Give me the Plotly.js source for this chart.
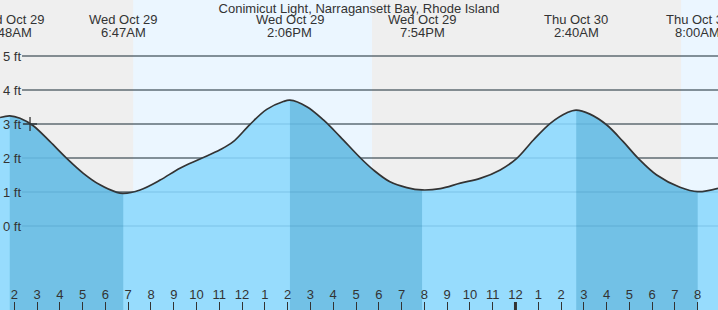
<!DOCTYPE html>
<html><head><meta charset="utf-8">
<script src="https://cdn.plot.ly/plotly-3.0.1.min.js"></script>
<style>html,body{margin:0;padding:0;background:#fff;}#chart{width:718px;height:310px;}</style>
</head><body><div id="chart"></div>
<script>
const chartTitle = "Conimicut Light, Narragansett Bay, Rhode Island";
// hours after midnight starting Wed Oct 29
const tideHours = [1.372, 1.80, 2.25, 2.83, 3.57, 4.30, 5.03, 5.76, 6.50, 6.783, 7.52, 8.40, 9.27, 10.15, 11.03, 11.61, 12.35, 13.08, 13.81, 14.10, 14.84, 15.57, 16.30, 17.18, 17.76, 18.49, 19.23, 19.90, 20.70, 21.58, 22.45, 23.33, 24.06, 24.79, 25.53, 26.26, 26.667, 27.27, 28.01, 28.73, 29.39, 30.20, 31.22, 32.00, 32.891];
const tideFeet  = [3.19, 3.24, 3.17, 2.95, 2.48, 1.99, 1.55, 1.21, 0.99, 0.96, 1.06, 1.35, 1.70, 1.97, 2.24, 2.48, 2.99, 3.43, 3.66, 3.70, 3.51, 3.12, 2.63, 2.01, 1.65, 1.30, 1.13, 1.06, 1.10, 1.26, 1.40, 1.65, 1.99, 2.53, 3.02, 3.33, 3.41, 3.29, 2.97, 2.48, 1.99, 1.50, 1.14, 1.01, 1.11];
const extremeHours = [1.80, 6.783, 14.10, 19.90, 26.667, 32.00];
const extremeTypes = ["high", "low", "high", "low", "high", "low"];
const extremeDays  = ["Wed Oct 29", "Wed Oct 29", "Wed Oct 29", "Wed Oct 29", "Thu Oct 30", "Thu Oct 30"];
const extremeTimes = ["1:48AM", "6:47AM", "2:06PM", "7:54PM", "2:40AM", "8:00AM"];
const sunriseHours = [7.22, 31.27];
const sunsetHours  = [17.70];
const tickHours  = [2,3,4,5,6,7,8,9,10,11,12,13,14,15,16,17,18,19,20,21,22,23,24,25,26,27,28,29,30,31,32];
const tickLabels = ["2","3","4","5","6","7","8","9","10","11","12","1","2","3","4","5","6","7","8","9","10","11","12","1","2","3","4","5","6","7","8"];
const heightTicks  = [0, 1, 2, 3, 4, 5];
const heightLabels = ["0 ft", "1 ft", "2 ft", "3 ft", "4 ft", "5 ft"];
const nowHour = [2.69];
const nowFeet = [3.0];
const midnightHours = [24];

const W = 718, H = 310;
const xRange = [1.372, 32.891];
const yRange = [-2.4706, 6.6471];
const floorVal = yRange[0] - 1;
const textColor = '#333333';
const FONT = 'Liberation Sans, Arial, sans-serif';
const FS = 13;
const lightWater = '#97dcfd';
const darkWater = '#72c1e6';

const traces = [];
function fillPair(xs, ys, color) {
  traces.push({x: xs, y: xs.map(() => floorVal), mode: 'lines', line: {width: 0}, hoverinfo: 'skip', showlegend: false});
  traces.push({x: xs, y: ys, mode: 'lines', line: {width: 0, shape: 'spline', smoothing: 1}, fill: 'tonexty', fillcolor: color, hoverinfo: 'skip', showlegend: false});
}
fillPair(tideHours, tideFeet, lightWater);
for (let i = 0; i < extremeHours.length - 1; i++) {
  if (extremeTypes[i] !== 'high') continue;
  const a = extremeHours[i], b = extremeHours[i + 1];
  const xs = [], ys = [];
  tideHours.forEach((h, k) => { if (h >= a - 1e-6 && h <= b + 1e-6) { xs.push(h); ys.push(tideFeet[k]); } });
  fillPair(xs, ys, darkWater);
}
traces.push({x: tideHours, y: tideFeet, mode: 'lines', line: {color: '#333333', width: 1.7, shape: 'spline', smoothing: 1}, hoverinfo: 'skip', showlegend: false});
traces.push({x: nowHour, y: nowFeet, mode: 'markers', marker: {symbol: 'cross-thin-open', size: 10, color: '#333333', line: {color: '#333333', width: 1.3}}, hoverinfo: 'skip', showlegend: false});

const shapes = [];
for (let i = 0; i < sunriseHours.length; i++) {
  const end = i < sunsetHours.length ? sunsetHours[i] : xRange[1] + 1;
  shapes.push({type: 'rect', layer: 'below', xref: 'x', yref: 'paper', x0: sunriseHours[i], x1: end, y0: 0, y1: 1, fillcolor: '#ebf6ff', line: {width: 0}});
}
const gridStart = 22 / W;
heightTicks.forEach(v => {
  shapes.push({type: 'line', layer: 'below', xref: 'paper', yref: 'y', x0: gridStart, x1: 1, y0: v, y1: v, line: {color: '#333333', width: 1.2}});
  shapes.push({type: 'line', layer: 'above', xref: 'paper', yref: 'y', x0: gridStart, x1: 1, y0: v, y1: v, line: {color: 'rgba(30,110,160,0.22)', width: 1.2}});
});
midnightHours.forEach(m => {
  shapes.push({type: 'line', layer: 'above', xref: 'x', yref: 'paper', x0: m, x1: m, y0: 0, y1: 8 / H, line: {color: '#333333', width: 3}});
});

const annotations = [];
extremeHours.forEach((h, i) => {
  annotations.push({x: h, xref: 'x', y: 1 - 20 / H, yref: 'paper', text: extremeDays[i], showarrow: false, xanchor: 'center', yanchor: 'middle', font: {family: FONT, size: FS, color: textColor}});
  annotations.push({x: h, xref: 'x', y: 1 - 32 / H, yref: 'paper', text: extremeTimes[i], showarrow: false, xanchor: 'center', yanchor: 'middle', font: {family: FONT, size: FS, color: textColor}});
});

const layout = {
  width: W, height: H,
  margin: {l: 0, r: 0, t: 0, b: 0, pad: 0},
  paper_bgcolor: '#efefef',
  plot_bgcolor: '#efefef',
  showlegend: false,
  title: {text: chartTitle, x: 0.5, xanchor: 'center', xref: 'paper', y: 1 - 8 / H, yref: 'container', yanchor: 'middle', font: {family: FONT, size: FS, color: textColor}},
  xaxis: {range: xRange, tickvals: tickHours, ticktext: tickLabels, ticks: 'inside', ticklen: 8, tickwidth: 1, tickcolor: '#333333', ticklabelposition: 'inside', ticklabeloverflow: 'allow', showgrid: false, zeroline: false, showline: false, fixedrange: true, tickfont: {family: FONT, size: FS, color: textColor}},
  yaxis: {range: yRange, tickvals: heightTicks, ticktext: heightLabels, ticks: '', ticklabelposition: 'inside', ticklabeloverflow: 'allow', showgrid: false, zeroline: false, showline: false, fixedrange: true, tickfont: {family: FONT, size: FS, color: textColor}},
  shapes: shapes,
  annotations: annotations
};
Plotly.newPlot('chart', traces, layout, {staticPlot: true, displayModeBar: false});
</script>
</body></html>
